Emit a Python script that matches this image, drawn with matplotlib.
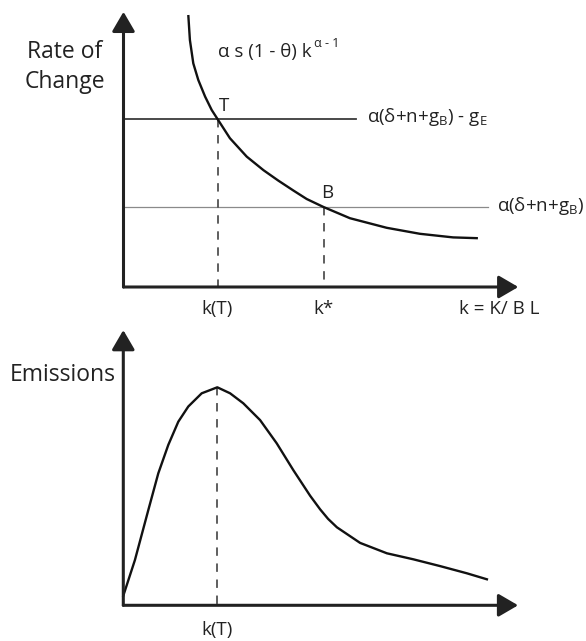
# Two-panel diagram: rate of change vs. capital per effective worker (top)
# and emissions vs. capital per effective worker (bottom)

import matplotlib
matplotlib.use("Agg")
import matplotlib.pyplot as plt

plt.rcParams["font.family"] = ["Open Sans", "DejaVu Sans"]
plt.rcParams["mathtext.fontset"] = "custom"
plt.rcParams["mathtext.rm"] = "Open Sans"

# ---- data ----

# Top panel: the declining curve alpha s (1 - theta) k^(alpha-1)
TOP_CURVE_K = [1.62, 1.66, 1.745, 1.87, 2.04, 2.205, 2.35, 2.66, 3.08, 3.50,
               3.87, 4.25, 4.58, 5.00, 5.66, 6.58, 7.41, 8.24, 8.86]
TOP_CURVE_RATE = [6.80, 6.175, 5.59, 5.175, 4.76, 4.425, 4.20, 3.72, 3.26,
                  2.92, 2.66, 2.41, 2.20, 2.00, 1.72, 1.48, 1.33, 1.24, 1.22]

# Horizontal levels and where they stop
UPPER_LEVEL = 4.2
LOWER_LEVEL = 2.0
UPPER_LINE_END = 5.8
LOWER_LINE_END = 9.1

# Marked points on the k axis
K_T = 2.35
K_STAR = 5.0

# Bottom panel: the emissions hump
EMIS_K = [0.0, 0.29, 0.625, 0.875, 1.125, 1.375, 1.625, 1.96, 2.35, 2.67,
          3.00, 3.42, 3.835, 4.25, 4.67, 4.92, 5.12, 5.34, 5.92, 6.59, 7.25,
          7.92, 8.59, 9.09]
EMIS_VALUE = [0.24, 1.13, 2.38, 3.30, 4.01, 4.59, 4.97, 5.30, 5.45, 5.30,
              5.05, 4.63, 4.05, 3.38, 2.74, 2.40, 2.16, 1.95, 1.56, 1.30,
              1.15, 0.98, 0.80, 0.65]
EMIS_PEAK = 5.45

# Length of the drawn axes (arrow tips)
AXIS_X_END = 9.87
AXIS_Y_END = 6.88

# ---- style ----
AXIS_COLOR = "#222222"
CURVE_COLOR = "#111111"
DASH_COLOR = "#333333"
TEXT_COLOR = "#222222"
LABEL_SIZE = 16.5
MATH_SIZE = 13.5


# Draws the two arrows that make up the axes, both starting at the origin
def draw_axes_arrows(ax):
    style = dict(arrowstyle="-|>,head_length=0.6,head_width=0.35",
                 mutation_scale=20, lw=2.2, color=AXIS_COLOR,
                 shrinkA=0, shrinkB=0)
    ax.annotate("", xy=(AXIS_X_END, 0), xytext=(0, 0), arrowprops=style)
    ax.annotate("", xy=(0, AXIS_Y_END), xytext=(0, 0), arrowprops=style)


# Draws a dashed drop line from a point down to the k axis
def draw_drop_line(ax, x, y):
    ax.plot([x, x], [y, 0], color=DASH_COLOR, lw=1.1, dashes=(5.5, 5))


def main():
    fig = plt.figure(figsize=(5.86, 6.41), dpi=100)

    # Axes are laid out so that one data unit is 40 px and the origins sit
    # where the reference has them
    top_ax = fig.add_axes([0, 1 - 320 / 641, 1, 320 / 641])
    top_ax.set_xlim(-123.5 / 40, (586 - 123.5) / 40)
    top_ax.set_ylim((287 - 320) / 40, 287 / 40)
    top_ax.axis("off")

    bottom_ax = fig.add_axes([0, 0, 1, 321 / 641])
    bottom_ax.set_xlim(-123.3 / 40, (586 - 123.3) / 40)
    bottom_ax.set_ylim((605.3 - 641) / 40, (605.3 - 320) / 40)
    bottom_ax.axis("off")

    # ---- top panel ----
    top_ax.plot([0, UPPER_LINE_END], [UPPER_LEVEL, UPPER_LEVEL],
                color="#3a3a3a", lw=1.3)
    top_ax.plot([0, LOWER_LINE_END], [LOWER_LEVEL, LOWER_LEVEL],
                color="#8a8a8a", lw=0.9)
    draw_drop_line(top_ax, K_T, UPPER_LEVEL)
    draw_drop_line(top_ax, K_STAR, LOWER_LEVEL)
    top_ax.plot(TOP_CURVE_K, TOP_CURVE_RATE, color=CURVE_COLOR, lw=1.7,
                solid_joinstyle="round", solid_capstyle="butt")
    draw_axes_arrows(top_ax)

    top_ax.text(-1.46, 5.5, "Rate of\nChange", ha="center", va="center",
                fontsize=LABEL_SIZE, linespacing=1.3, color=TEXT_COLOR)
    main_label = top_ax.text(2.36, 5.88, "α s (1 - θ) k", ha="left",
                             va="center", fontsize=MATH_SIZE, color=TEXT_COLOR)
    top_ax.annotate("α - 1", xy=(1.0, 0.95), xycoords=main_label,
                    xytext=(1.5, 0), textcoords="offset points",
                    ha="left", va="center", fontsize=9, color=TEXT_COLOR)
    top_ax.text(K_T + 0.16, UPPER_LEVEL + 0.32, "T", ha="center",
                va="center", fontsize=MATH_SIZE, color=TEXT_COLOR)
    top_ax.text(K_STAR + 0.1, LOWER_LEVEL + 0.35, "B", ha="center",
                va="center", fontsize=MATH_SIZE, color=TEXT_COLOR)
    top_ax.text(UPPER_LINE_END + 0.28, UPPER_LEVEL + 0.05,
                r"α(δ+n+g$_{\mathregular{B}}$) - g$_{\mathregular{E}}$",
                ha="left", va="center", fontsize=MATH_SIZE, color=TEXT_COLOR)
    top_ax.text(LOWER_LINE_END + 0.24, LOWER_LEVEL + 0.02,
                r"α(δ+n+g$_{\mathregular{B}}$)",
                ha="left", va="center", fontsize=MATH_SIZE, color=TEXT_COLOR)
    top_ax.text(K_T, -0.55, "k(T)", ha="center", va="center",
                fontsize=MATH_SIZE, color=TEXT_COLOR)
    top_ax.text(K_STAR, -0.55, "k*", ha="center", va="center",
                fontsize=MATH_SIZE, color=TEXT_COLOR)
    top_ax.text(9.4, -0.55, "k = K/ B L", ha="center", va="center",
                fontsize=MATH_SIZE, color=TEXT_COLOR)

    # ---- bottom panel ----
    draw_drop_line(bottom_ax, K_T, EMIS_PEAK)
    bottom_ax.plot(EMIS_K, EMIS_VALUE, color=CURVE_COLOR, lw=1.7,
                   solid_joinstyle="round")
    draw_axes_arrows(bottom_ax)

    bottom_ax.text(-0.2, 5.76, "Emissions", ha="right", va="center",
                   fontsize=LABEL_SIZE, color=TEXT_COLOR)
    bottom_ax.text(K_T, -0.63, "k(T)", ha="center", va="center",
                   fontsize=MATH_SIZE, color=TEXT_COLOR)

    fig.savefig("out.png", dpi=100, facecolor="white")


if __name__ == "__main__":
    main()
